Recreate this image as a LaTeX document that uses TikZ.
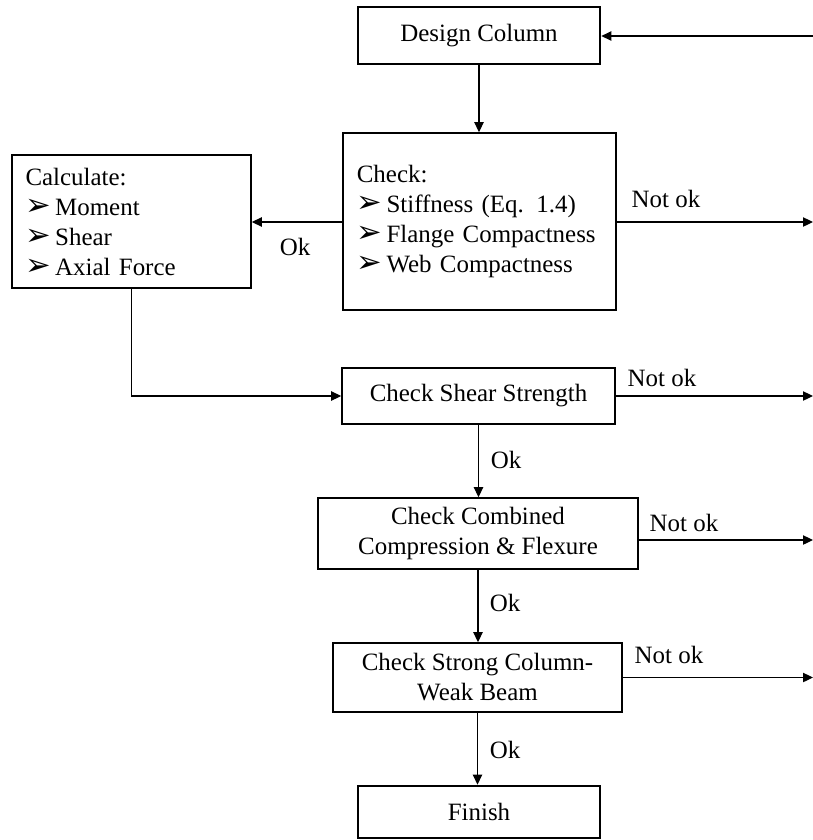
\documentclass[tikz,border=0pt]{standalone}
\usepackage{fontspec}
\setmainfont{Liberation Serif}
\newfontfamily\symfont{DejaVu Sans}
\usetikzlibrary{arrows.meta}
\newcommand{\bul}{{\symfont\fontsize{23}{22.5}\selectfont ➢}\hspace{3pt}}
\tikzset{
  flowbox/.style={draw,line width=1.2pt,align=center,inner sep=0pt,
    font=\fontsize{18.7}{22.5}\selectfont},
  endbox/.style={flowbox,line width=2pt},
  listbox/.style={flowbox,align=left,inner xsep=10pt},
  link/.style={line width=0.9pt,-{Triangle[length=7.5pt,width=7pt]}},
  lbl/.style={font=\fontsize{18.7}{22.5}\selectfont,inner sep=0pt}
}
\begin{document}
\begin{tikzpicture}[x=0.75pt,y=-0.75pt]
  \useasboundingbox (0,0) rectangle (813,840);
  % boxes
  \node[endbox,minimum width=181.5pt,minimum height=42.75pt] (design) at (479,35.5) {Design Column};
  \node[listbox,minimum width=204.75pt,minimum height=132.75pt,text width=184pt] (check) at (479.5,221.5)
    {Check:\\\bul Stiffness (Eq. 1.4)\\\bul Flange Compactness\\\bul Web Compactness};
  \node[listbox,minimum width=179.25pt,minimum height=99.75pt,text width=159pt] (calc) at (131.5,221.5)
    {Calculate:\\\bul Moment\\\bul Shear\\\bul Axial Force};
  \node[flowbox,minimum width=204.75pt,minimum height=42pt] (shear) at (478.5,396) {Check Shear Strength};
  \node[flowbox,minimum width=240pt,minimum height=53.25pt] (combined) at (478,533.5) {Check Combined\\Compression \& Flexure};
  \node[flowbox,minimum width=216.75pt,minimum height=51.75pt] (strong) at (477.5,677.5) {Check Strong Column-\\Weak Beam};
  \node[endbox,minimum width=181.5pt,minimum height=39pt] (finish) at (479,812) {Finish};
  % loose ends on the right
  \coordinate (retIn) at (813,36);
  \coordinate (outA) at (813,222);
  \coordinate (outB) at (813,396);
  \coordinate (outC) at (813,540);
  \coordinate (outD) at (813,677.5);
  % connectors
  \draw[link] (retIn) -- (design.east |- retIn);
  \draw[link] (design.south) -- (design.south |- check.north);
  \draw[link] (check.west |- outA) -- (calc.east |- outA);
  \draw[link] (check.east |- outA) -- (outA);
  \draw[link] (calc.south) |- (shear.west);
  \draw[link] (shear.east) -- (outB);
  \draw[link] (shear.south) -- (shear.south |- combined.north);
  \draw[link] (combined.east |- outC) -- (outC);
  \draw[link] (combined.south) -- (combined.south |- strong.north);
  \draw[link] (strong.east) -- (outD);
  \draw[link] (strong.south) -- (strong.south |- finish.north);
  % labels
  \node[lbl] (okA) at (295,247) {Ok};
  \node[lbl] (notA) at (666,199) {Not ok};
  \node[lbl] (notB) at (662,378) {Not ok};
  \node[lbl] (okB) at (506,460) {Ok};
  \node[lbl] (notC) at (684,523) {Not ok};
  \node[lbl] (okC) at (505,603) {Ok};
  \node[lbl] (notD) at (669,655) {Not ok};
  \node[lbl] (okD) at (505,750) {Ok};
\end{tikzpicture}
\end{document}
